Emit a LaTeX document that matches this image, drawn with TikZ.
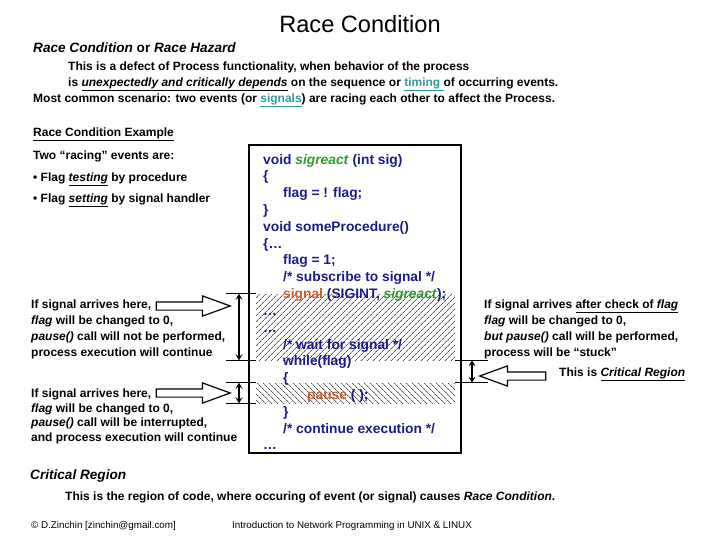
\documentclass[tikz,border=0pt]{standalone}
\usepackage{fontspec}
\setmainfont{Liberation Sans}
\usepackage{xcolor}
\usepackage{tikz}
\usetikzlibrary{positioning, patterns.meta, shapes.arrows, arrows.meta}
\definecolor{codeNavy}{HTML}{1C1C86}
\definecolor{sigGreen}{HTML}{2E9A2E}
\definecolor{sigOrange}{HTML}{C8602E}
\definecolor{linkTeal}{HTML}{2F9C9C}
\tikzset{
    txt_body/.style={
        anchor=west, inner sep=0pt, align=left,
        font=\fontsize{12}{16}\selectfont\bfseries
    },
    txt_code/.style={
        anchor=west, inner sep=0pt, align=left, text=codeNavy,
        font=\fontsize{13.8}{16.82}\selectfont\bfseries
    },
    txt_foot/.style={
        anchor=west, inner sep=0pt, font=\fontsize{9.8}{10}\selectfont
    },
    hatch_ne/.style={
        rectangle, inner sep=0pt, minimum width=199pt,
        pattern={Lines[angle=45, distance=4pt, line width=0.6pt]}
    },
    hatch_nw/.style={
        rectangle, inner sep=0pt, minimum width=199pt,
        pattern={Lines[angle=-45, distance=4pt, line width=0.6pt]}
    },
    dim_line/.style={line width=1.2pt},
    dim_arrow/.style={
        {Stealth[length=6pt,width=7pt,inset=2.5pt]}-{Stealth[length=6pt,width=7pt,inset=2.5pt]},
        line width=1.2pt
    },
    hollow_arrow/.style={
        single arrow, draw, line width=1.2pt, fill=white,
        minimum height=74pt, inner sep=3.5pt,
        single arrow head extend=6pt, single arrow tip angle=40
    }
}

\begin{document}
\begin{tikzpicture}[x=1pt, y=-1pt]
    \useasboundingbox (0,0) rectangle (720,540);

    % Title and definition
    \node[font=\fontsize{23.6}{28}\selectfont] (title) at (360,24) {Race Condition};
    \node[txt_body, font=\fontsize{13.6}{16}\selectfont\bfseries] (head) at (33,48)
        {\textit{Race Condition} or \textit{Race Hazard}};
    \node[txt_body] (defA) at (68,67) {This is a defect of Process functionality, when behavior of the process};
    \node[txt_body] (defB) at (68,84)
        {is \underline{\textit{unexpectedly and critically depends}} on the sequence or \textcolor{linkTeal}{\underline{timing }}of occurring events.};
    \node[txt_body] (defC) at (33,100)
        {Most common scenario: two events (or \textcolor{linkTeal}{\underline{signals}}) are racing each other to affect the Process.};

    % Example heading
    \node[txt_body] (exTitle) at (33,134) {\underline{Race Condition Example}};
    \node[txt_body, font=\fontsize{12}{21.5}\selectfont\bfseries] (exList) at (33,179)
        {Two “racing” events are:\\
         • Flag \underline{\textit{testing}} by procedure\\
         • Flag \underline{\textit{setting}} by signal handler};

    % Code box with the two hatched regions
    \node[rectangle, draw, line width=1.6pt, minimum width=212pt, minimum height=308pt] (codebox) at (355,299) {};
    \node[hatch_ne, minimum height=66pt] (critA) at (355.5,327) {};
    \node[hatch_nw, minimum height=20pt] (critB) at (355.5,393) {};
    \node[txt_code] (code) at (263,302)
        {void \textcolor{sigGreen}{\textit{sigreact}} (int sig)\\
         \{\\
         \hspace*{20pt}flag = ! flag;\\
         \}\\
         void someProcedure()\\
         \{…\\
         \hspace*{20pt}flag = 1;\\
         \hspace*{20pt}/* subscribe to signal */\\
         \hspace*{20pt}\textcolor{sigOrange}{signal} (SIGINT, \textcolor{sigGreen}{\textit{sigreact}});\\
         …\\
         …\\
         \hspace*{20pt}/* wait for signal */\\
         \hspace*{20pt}while(flag)\\
         \hspace*{20pt}\{\\
         \hspace*{44pt}\textcolor{sigOrange}{pause} ( );\\
         \hspace*{20pt}\}\\
         \hspace*{20pt}/* continue execution */\\
         …};

    % Dimension marks left and right of the code
    \coordinate (dimL) at (239,0);
    \coordinate (dimR) at (472,0);
    \draw[dim_line] (critA.north west) -- ++(-30,0);
    \draw[dim_line] (critA.south west) -- ++(-30,0);
    \draw[dim_line] (critB.north west) -- ++(-30,0);
    \draw[dim_line] (critB.south west) -- ++(-30,0);
    \draw[dim_arrow] (dimL |- critA.north) -- (dimL |- critA.south);
    \draw[dim_arrow] (dimL |- critB.north) -- (dimL |- critB.south);
    \draw[dim_line] (critA.south east) -- ++(33,0);
    \draw[dim_line] (critB.north east) -- ++(33,0);
    \draw[dim_arrow] (dimR |- critA.south) -- (dimR |- critB.north);

    % Notes on the left
    \node[txt_body] (noteA) at (31,329)
        {If signal arrives here,\\
         \textit{flag} will be changed to 0,\\
         \textit{pause()} call will not be performed,\\
         process execution will continue};
    \node[txt_body, font=\fontsize{12}{14.5}\selectfont\bfseries] (noteB) at (31,416.5)
        {If signal arrives here,\\
         \textit{flag} will be changed to 0,\\
         \textit{pause()} call will be interrupted,\\
         and process execution will continue};
    \node[hollow_arrow, anchor=tip] (ptrA) at (232,306) {};
    \node[hollow_arrow, anchor=tip] (ptrB) at (232,393) {};

    % Note on the right
    \node[txt_body] (noteC) at (484,329)
        {If signal arrives \underline{after check of \textit{flag}}\\
         \textit{flag} will be changed to 0,\\
         \textit{but pause()} call will be performed,\\
         process will be “stuck”};
    \node[hollow_arrow, anchor=tip, shape border rotate=180, minimum height=66pt] (ptrC) at (478,376) {};
    \node[txt_body] (critLbl) at (559,374) {This is \underline{\textit{Critical Region}}};

    % Critical region definition
    \node[txt_body, font=\fontsize{13.6}{16}\selectfont\bfseries\itshape] (critTitle) at (30,476) {Critical Region};
    \node[txt_body] (critDef) at (65,497)
        {This is the region of code, where occuring of event (or signal) causes \textit{Race Condition}.};

    % Footer
    \node[txt_foot] (footA) at (31,526) {© D.Zinchin [zinchin@gmail.com]};
    \node[txt_foot] (footB) at (232,526) {Introduction to Network Programming in UNIX \& LINUX};
\end{tikzpicture}
\end{document}
